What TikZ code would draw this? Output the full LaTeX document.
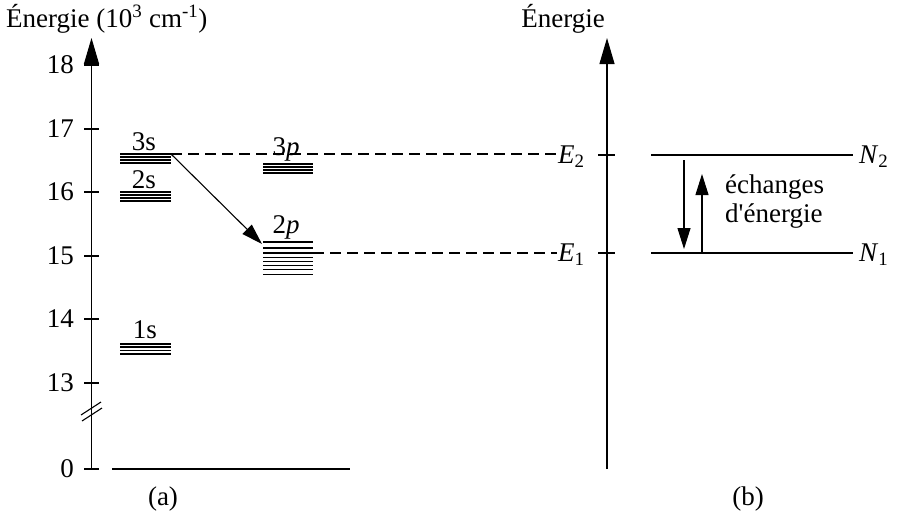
\documentclass[tikz,border=0pt]{standalone}
\usepackage{fontspec}
\setmainfont{Liberation Serif}
\usetikzlibrary{arrows.meta,positioning}

\begin{document}
\begin{tikzpicture}[x=1pt, y=-1pt,
   axe/.style={line width=1.1pt, -{Triangle[length=26pt, width=15pt]}},
   niv/.style={line width=1.1pt},
   pointille/.style={line width=1.1pt, dash pattern=on 11pt off 6pt},
   fl/.style={line width=1.1pt, -{Triangle[length=21pt, width=13pt]}},
   txt/.style={font=\fontsize{27}{29}\selectfont, inner sep=1pt},
   grad/.style={font=\fontsize{27}{30}\selectfont, anchor=east, inner sep=0pt}]
  \useasboundingbox (0,0) rectangle (902,515);
  % (a) : niveaux du néon
  \coordinate (a0) at (91.5,469);
  \coordinate (a1) at (91.5,38);
  \draw[axe] (a0) -- (a1);
  \foreach \v/\y in {18/65,17/129,16/192,15/256,14/319,13/383,0/469} {
    \draw[niv] (84,\y) -- (99,\y);
    \node[grad] (g\v) at (74,\y) {\v};
  }
  \draw[niv] (81,415) -- (101,402);
  \draw[niv] (82,421) -- (102,408);
  \draw[niv] (112,469) -- (350,469);
  \foreach \y in {154,157,160,163} {\draw[niv] (120,\y) -- (171,\y);}
  \foreach \y in {192,195,198,201} {\draw[niv] (120,\y) -- (171,\y);}
  \foreach \y in {344,347,350.5,354} {\draw[niv] (120,\y) -- (171,\y);}
  \foreach \y in {164,167,170,173} {\draw[niv] (263,\y) -- (313,\y);}
  \foreach \y in {242,253,257.5,261.5,265.5,269.5,274.5} {\draw[niv] (263,\y) -- (313,\y);}
  \draw[line width=2pt] (263,248) -- (313,248);
  \node[txt, anchor=base] (n3s) at (144,150) {3s};
  \node[txt, anchor=base] (n2s) at (144,188) {2s};
  \node[txt, anchor=base] (n1s) at (145,338) {1s};
  \node[txt, anchor=base] (n3p) at (286,155) {3\textit{p}};
  \node[txt, anchor=base] (n2p) at (286,233) {2\textit{p}};
  \coordinate (s3) at (171,154);
  \coordinate (p2) at (313,253);
  \coordinate (p2g) at (262,244);
  \draw[fl] (s3) -- (p2g);
  \node[txt, anchor=base] (ta) at (163,505) {(a)};
  \node[txt, anchor=base west] (tia) at (5,27) {Énergie (10\textsuperscript{3} cm\textsuperscript{-1})};
  % (b) : système à deux niveaux
  \coordinate (b0) at (607,469);
  \coordinate (b1) at (607,38);
  \draw[axe] (b0) -- (b1);
  \draw[niv] (598,155) -- (615,155);
  \draw[niv] (598,253) -- (615,253);
  \node[txt, anchor=west] (E2) at (557,157) {\textit{E}\textsubscript{2}};
  \node[txt, anchor=west] (E1) at (557,255) {\textit{E}\textsubscript{1}};
  \draw[pointille] (s3) -- (s3 -| E2.west);
  \draw[pointille] (p2) -- (p2 -| E1.west);
  \coordinate (h2) at (651,155);
  \coordinate (h2e) at (853,155);
  \coordinate (h1) at (651,253);
  \coordinate (h1e) at (853,253);
  \node[txt, anchor=west] (N2) at (858,157) {\textit{N}\textsubscript{2}};
  \node[txt, anchor=west] (N1) at (858,255) {\textit{N}\textsubscript{1}};
  \draw[niv] (h2) -- (h2e);
  \draw[niv] (h1) -- (h1e);
  \coordinate (d0) at (684,160);
  \coordinate (d1) at (684,249);
  \coordinate (m0) at (702,253);
  \coordinate (m1) at (702,174);
  \draw[fl] (d0) -- (d1);
  \draw[fl] (m0) -- (m1);
  \node[txt, anchor=west, align=left] (ech) at (724,202) {échanges\\d\textquotesingle énergie};
  \node[txt, anchor=base] (tb) at (748,505) {(b)};
  \node[txt, anchor=base east] (tib) at (606,27) {Énergie};
\end{tikzpicture}
\end{document}
